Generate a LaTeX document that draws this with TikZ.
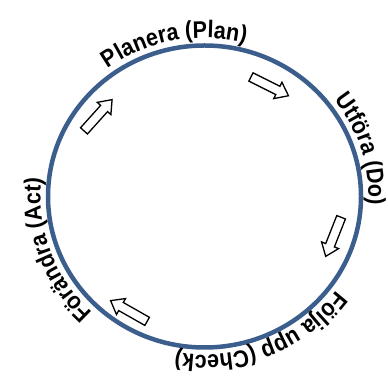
\documentclass[tikz,border=0pt]{standalone}
\usepackage{fontspec}
\setmainfont{Liberation Sans}
\newfontfamily\ringfont[FakeStretch=0.9]{Liberation Sans}
\usetikzlibrary{shapes.arrows,decorations.text}

\definecolor{ringblue}{RGB}{59,94,140}

\begin{document}
\begin{tikzpicture}[x=1pt,y=1pt,
  ring/.style={draw=ringblue,line width=4.5pt},
  blockarrow/.style={single arrow,draw=black,fill=white,line width=1.3pt,
    inner xsep=0pt,inner ysep=4pt,single arrow head extend=4.5pt,
    single arrow tip angle=75,minimum height=42pt},
  arclabel/.style={decorate,decoration={text along path,text align=center,
    text={|\ringfont\fontsize{24}{26}\selectfont\bfseries|#1}}}]
\useasboundingbox (0,0) rectangle (387,387);
\coordinate (ctr) at (204.5,190.5);
\draw[ring] (ctr) ellipse[x radius=156.5,y radius=151];

% phase labels, clockwise round the ring
\path[arclabel={Planera (Plan)}] (ctr) ++(151:164 and 158.5)
  arc[start angle=151,end angle=51,x radius=164,y radius=158.5];
\path[arclabel={Utföra (Do)}] (ctr) ++(67:164 and 158.5)
  arc[start angle=67,end angle=-33,x radius=164,y radius=158.5];
\path[arclabel={Följa upp (Check)}] (ctr) ++(-18:164 and 158.5)
  arc[start angle=-18,end angle=-118,x radius=164,y radius=158.5];
\path[arclabel={Förändra  (Act)}] (ctr) ++(250:164 and 158.5)
  arc[start angle=250,end angle=150,x radius=164,y radius=158.5];

% arrows
\node[blockarrow,rotate=48] (toplan) at (96,269.5) {};
\node[blockarrow,rotate=-26.6] (todo) at (267,302) {};
\node[blockarrow,rotate=-111.5] (tocheck) at (334.5,153) {};
\node[blockarrow,rotate=150.4] (toact) at (131.5,74.5) {};
\end{tikzpicture}
\end{document}
